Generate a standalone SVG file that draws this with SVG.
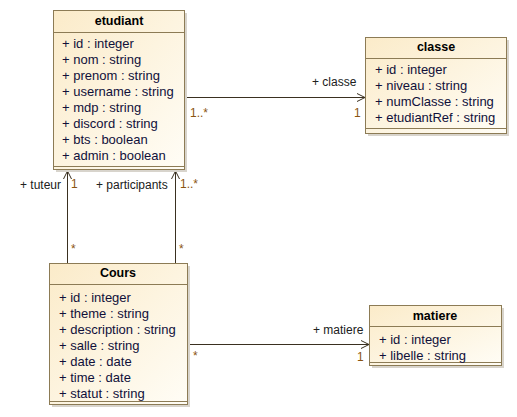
<svg xmlns="http://www.w3.org/2000/svg" width="517" height="417" viewBox="0 0 517 417">
<style>
.box{fill:url(#fillg);stroke:#8c7b55;stroke-width:1}
.shadow{fill:#d8d4cc}
.sep{stroke:#8c7b55;stroke-width:1}
.title{font-family:"Liberation Sans",Arial,sans-serif;font-size:12.5px;font-weight:bold;fill:#000;text-anchor:middle}
.attr{font-family:"Liberation Sans",Arial,sans-serif;font-size:13px;fill:#10103a}
.conn{stroke:#3a3020;stroke-width:1;fill:none}
.role{font-family:"Liberation Sans",Arial,sans-serif;font-size:12px;fill:#202020}
.mult{font-family:"Liberation Sans",Arial,sans-serif;font-size:12px;fill:#8a5410}
</style>
<defs>
<linearGradient id="fillg" x1="0" y1="0" x2="1" y2="1">
<stop offset="0" stop-color="#fbebc9"/>
<stop offset="1" stop-color="#fffdf6"/>
</linearGradient>
<marker id="open" markerWidth="10" markerHeight="10" refX="9" refY="5" orient="auto" markerUnits="userSpaceOnUse">
<path d="M1,1 L9,5 L1,9" fill="none" stroke="#3a3020" stroke-width="1"/>
</marker>
</defs>

<g id="connectors">
<line class="conn" x1="184" y1="97.5" x2="365" y2="97.5" marker-end="url(#open)"/>
<line class="conn" x1="67.5" y1="263" x2="67.5" y2="171" marker-end="url(#open)"/>
<line class="conn" x1="175.5" y1="263" x2="175.5" y2="171" marker-end="url(#open)"/>
<line class="conn" x1="187" y1="344.5" x2="369" y2="344.5" marker-end="url(#open)"/>
<text class="role" x="312" y="86">+ classe</text>
<text class="mult" x="190" y="117">1..*</text>
<text class="mult" x="354" y="117">1</text>
<text class="role" x="20" y="189">+ tuteur</text>
<text class="mult" x="71" y="188">1</text>
<text class="mult" x="71" y="253">*</text>
<text class="role" x="96" y="189">+ participants</text>
<text class="mult" x="180" y="188">1..*</text>
<text class="mult" x="179" y="253">*</text>
<text class="role" x="313" y="334">+ matiere</text>
<text class="mult" x="357" y="361">1</text>
<text class="mult" x="193" y="360">*</text>
</g>

<g id="etudiant">
<rect class="shadow" x="56" y="13" width="131" height="159"/>
<rect class="box" x="53.5" y="10.5" width="131" height="159"/>
<line class="sep" x1="53.5" y1="32.5" x2="184.5" y2="32.5"/>
<line class="sep" x1="53.5" y1="166.5" x2="184.5" y2="166.5"/>
<text class="title" x="119" y="25">etudiant</text>
<text class="attr" x="62" y="48">+ id : integer</text>
<text class="attr" x="62" y="64">+ nom : string</text>
<text class="attr" x="62" y="80">+ prenom : string</text>
<text class="attr" x="62" y="96">+ username : string</text>
<text class="attr" x="62" y="112">+ mdp : string</text>
<text class="attr" x="62" y="128">+ discord : string</text>
<text class="attr" x="62" y="144">+ bts : boolean</text>
<text class="attr" x="62" y="160">+ admin : boolean</text>
</g>

<g id="classe">
<rect class="shadow" x="368" y="40" width="141" height="96"/>
<rect class="box" x="365.5" y="37.5" width="141" height="96"/>
<line class="sep" x1="365.5" y1="58.5" x2="506.5" y2="58.5"/>
<line class="sep" x1="365.5" y1="128.5" x2="506.5" y2="128.5"/>
<text class="title" x="436" y="51">classe</text>
<text class="attr" x="375" y="74">+ id : integer</text>
<text class="attr" x="375" y="90">+ niveau : string</text>
<text class="attr" x="375" y="106">+ numClasse : string</text>
<text class="attr" x="375" y="122">+ etudiantRef : string</text>
</g>

<g id="Cours">
<rect class="shadow" x="52" y="266" width="138" height="141"/>
<rect class="box" x="49.5" y="263.5" width="138" height="141"/>
<line class="sep" x1="49.5" y1="284.5" x2="187.5" y2="284.5"/>
<line class="sep" x1="49.5" y1="401.5" x2="187.5" y2="401.5"/>
<text class="title" x="118" y="277">Cours</text>
<text class="attr" x="59" y="302">+ id : integer</text>
<text class="attr" x="59" y="318">+ theme : string</text>
<text class="attr" x="59" y="334">+ description : string</text>
<text class="attr" x="59" y="350">+ salle : string</text>
<text class="attr" x="59" y="366">+ date : date</text>
<text class="attr" x="59" y="382">+ time : date</text>
<text class="attr" x="59" y="398">+ statut : string</text>
</g>

<g id="matiere">
<rect class="shadow" x="372" y="308" width="132" height="60"/>
<rect class="box" x="369.5" y="305.5" width="132" height="60"/>
<line class="sep" x1="369.5" y1="326.5" x2="501.5" y2="326.5"/>
<line class="sep" x1="369.5" y1="362.5" x2="501.5" y2="362.5"/>
<text class="title" x="435" y="320">matiere</text>
<text class="attr" x="379" y="344">+ id : integer</text>
<text class="attr" x="379" y="360">+ libelle : string</text>
</g>
</svg>
